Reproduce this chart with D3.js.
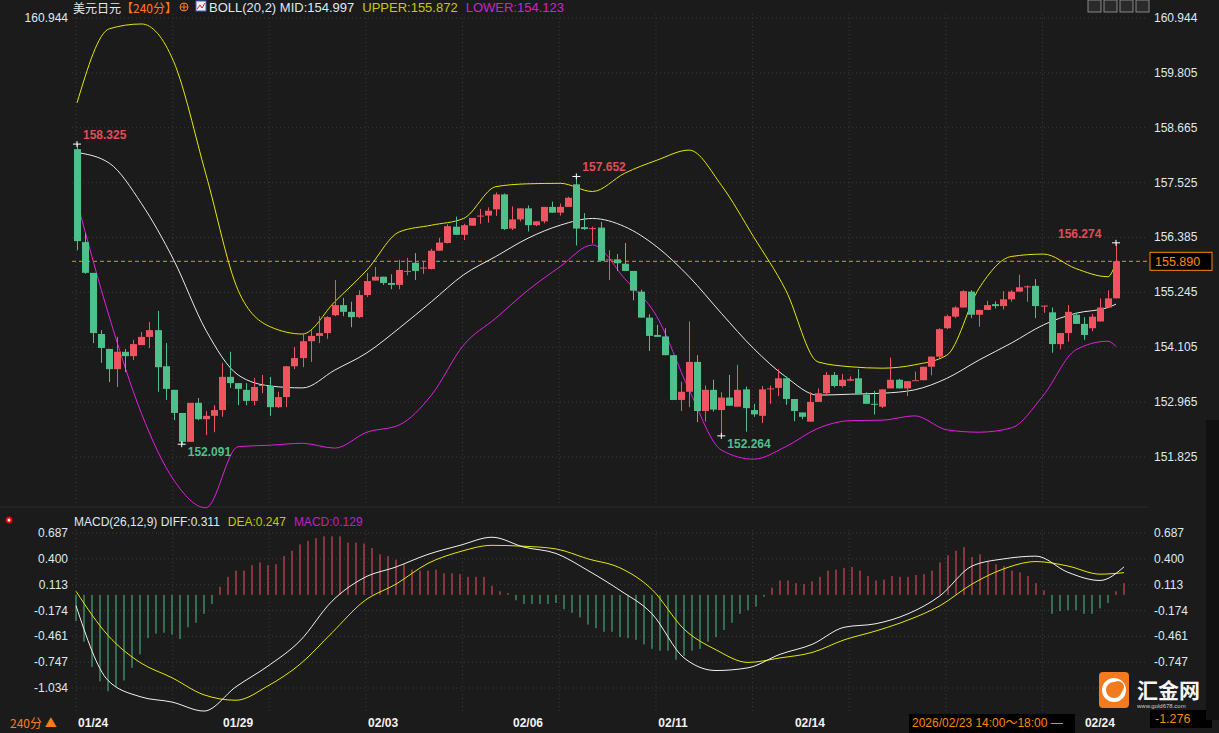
<!DOCTYPE html>
<html>
<head>
<meta charset="utf-8">
<script src="https://cdn.jsdelivr.net/npm/d3@7"></script>
<style>
  body { margin: 0; background: #1b1b1b; }
  svg { display: block; font-family: "Liberation Sans", Arial, "Noto Sans CJK SC", sans-serif; }
</style>
</head>
<body>
<svg id="chart" width="1219" height="733"></svg>
<script>
// candles, 240 min bars
const opens = [158.22,156.29,155.65,154.38,154.07,153.65,154.01,153.92,154.15,154.32,
  154.46,153.71,153.22,152.74,152.14,152.95,152.61,152.68,152.80,153.49,
  153.36,153.22,152.99,153.30,153.30,152.86,153.07,153.71,153.88,154.23,
  154.34,154.40,154.77,154.98,154.84,154.73,155.19,155.49,155.57,155.44,
  155.40,155.67,155.86,155.75,155.73,156.11,156.27,156.61,156.44,156.63,
  156.82,156.84,156.97,157.28,156.57,156.76,156.99,156.64,156.72,157.02,
  156.90,157.02,157.49,156.60,156.57,156.59,155.93,155.93,155.84,155.69,
  155.26,154.72,154.36,154.33,153.94,153.01,153.18,153.80,152.78,153.22,
  152.80,153.06,152.87,153.23,152.80,152.68,153.23,153.26,153.46,153.03,
  152.75,152.56,152.97,153.15,153.53,153.30,153.41,153.46,153.12,152.93,
  152.87,153.25,153.43,153.25,153.40,153.42,153.70,153.91,154.50,154.74,
  154.93,155.26,154.78,154.88,155.00,154.96,155.10,155.26,155.36,155.38,
  154.97,154.83,154.17,154.40,154.78,154.59,154.50,154.64,154.93,155.12]
const closes = [156.31,155.65,154.40,154.09,153.65,154.01,153.92,154.17,154.32,154.46,
  153.69,153.24,152.74,152.14,152.95,152.61,152.68,152.80,153.49,153.36,
  153.24,152.99,153.28,153.32,152.86,153.07,153.71,153.88,154.23,154.34,
  154.40,154.73,154.98,154.84,154.73,155.19,155.48,155.57,155.44,155.40,
  155.71,155.69,155.69,155.76,156.11,156.28,156.62,156.44,156.64,156.79,
  156.84,156.94,157.28,156.56,156.76,156.99,156.64,156.72,157.02,156.90,
  157.02,157.21,156.57,156.56,156.58,155.90,155.93,155.85,155.69,155.28,
  154.72,154.34,154.32,153.94,153.01,153.18,153.80,152.78,153.22,152.81,
  153.06,152.89,153.22,152.84,152.71,153.23,153.25,153.46,153.03,152.78,
  152.66,152.97,153.15,153.53,153.30,153.43,153.44,153.13,152.93,152.91,
  153.23,153.43,153.25,153.40,153.42,153.70,153.91,154.48,154.75,154.93,
  155.27,154.78,154.88,154.98,154.96,155.10,155.26,155.35,155.37,154.96,
  154.97,154.17,154.40,154.84,154.59,154.36,154.74,154.93,155.12,155.89]
const highs = [158.33,156.48,155.65,154.46,154.07,154.32,154.07,154.26,154.42,154.63,
  154.86,154.19,153.22,152.74,152.95,153.05,152.78,152.90,153.78,154.01,
  153.36,153.36,153.47,153.53,153.49,153.18,153.71,154.11,154.38,154.46,
  154.75,154.75,155.50,155.13,155.05,155.29,155.65,155.77,155.57,155.62,
  155.92,155.96,156.06,155.90,156.15,156.38,156.66,156.82,156.67,156.79,
  156.98,157.01,157.32,157.30,157.03,156.99,157.05,156.72,157.02,157.13,
  157.09,157.23,157.65,156.89,156.61,156.71,156.12,156.04,156.27,155.69,
  155.30,154.79,154.57,154.50,153.94,153.39,154.64,153.94,153.31,153.43,
  153.17,153.53,153.74,153.29,152.93,153.30,153.31,153.65,153.50,153.03,
  152.75,153.17,153.25,153.59,153.59,153.55,153.50,153.65,153.17,153.20,
  153.23,153.89,153.45,153.40,153.60,153.70,153.91,154.50,154.78,154.96,
  155.29,155.29,154.88,155.07,155.06,155.27,155.29,155.61,155.39,155.52,
  154.97,154.93,154.40,154.98,154.82,154.73,154.80,155.12,155.29,156.27]
const lows = [156.12,155.63,154.19,153.78,153.38,153.28,153.59,153.84,154.15,154.09,
  153.18,153.01,152.59,152.09,152.14,152.59,152.28,152.34,152.66,153.26,
  152.90,152.90,152.90,153.15,152.68,152.84,152.86,153.65,153.69,153.80,
  154.19,154.28,154.75,154.75,154.52,154.71,155.15,155.49,155.40,155.31,
  155.31,155.60,155.50,155.63,155.72,156.11,156.26,156.44,156.33,156.63,
  156.67,156.69,156.83,156.54,156.54,156.72,156.51,156.62,156.68,156.90,
  156.84,157.02,156.22,156.54,156.26,155.90,155.50,155.69,155.69,155.08,
  154.72,154.03,154.32,153.94,153.01,152.78,152.86,152.55,152.56,152.77,
  152.26,152.89,152.87,152.35,152.66,152.53,152.93,153.09,152.91,152.57,
  152.61,152.56,152.97,153.10,153.27,153.27,153.40,153.13,152.93,152.71,
  152.84,153.43,153.25,153.09,153.42,153.42,153.52,153.88,154.48,154.71,
  154.93,154.71,154.53,154.88,154.91,154.89,155.05,155.26,155.05,154.71,
  154.82,153.99,154.06,154.22,154.59,154.26,154.44,154.64,154.93,155.12]

// BOLL(20,2) read every 4 bars
const bandIdx = [0,4,8,12,16,20,24,28,32,36,40,44,48,52,56,60,64,68,72,76,80,84,88,92,96,100,104,108,112,116,120,124,128,129]
const upper = [159.18,160.72,160.82,160.04,157.70,155.29,154.53,154.38,155.05,155.71,156.50,156.64,156.78,157.44,157.50,157.51,157.34,157.72,157.99,158.20,157.47,156.40,155.29,153.80,153.70,153.67,153.74,153.94,155.33,155.99,156.04,155.74,155.57,155.87]
const mid = [158.15,157.93,157.09,155.92,154.46,153.53,153.30,153.26,153.63,153.99,154.50,155.05,155.61,155.99,156.37,156.64,156.78,156.61,156.19,155.57,154.81,154.08,153.49,153.11,153.13,153.15,153.22,153.46,153.84,154.19,154.57,154.81,154.93,155.00]
const lower = [157.13,154.74,152.73,151.35,150.77,152.04,152.07,152.11,152.01,152.34,152.49,153.11,154.15,154.71,155.29,155.78,156.23,155.53,154.74,153.22,151.97,151.78,152.04,152.42,152.58,152.59,152.68,152.39,152.34,152.43,153.11,154.05,154.23,154.12]

// MACD(26,12,9)
const hist = [-0.29,-0.52,-0.80,-0.96,-1.07,-1.02,-0.95,-0.81,-0.66,-0.48,
  -0.43,-0.42,-0.44,-0.49,-0.36,-0.31,-0.21,-0.10,0.09,0.20,
  0.27,0.27,0.33,0.36,0.33,0.34,0.43,0.49,0.56,0.60,
  0.63,0.65,0.65,0.65,0.58,0.58,0.57,0.52,0.45,0.43,
  0.39,0.34,0.28,0.27,0.27,0.28,0.24,0.24,0.23,0.20,
  0.20,0.20,0.10,0.04,0.02,-0.06,-0.10,-0.10,-0.10,-0.10,
  -0.09,-0.16,-0.20,-0.25,-0.33,-0.37,-0.41,-0.41,-0.47,-0.48,
  -0.50,-0.55,-0.60,-0.62,-0.62,-0.72,-0.68,-0.62,-0.60,-0.52,
  -0.47,-0.39,-0.31,-0.21,-0.17,-0.13,-0.02,0.08,0.16,0.16,
  0.13,0.12,0.15,0.20,0.27,0.28,0.30,0.31,0.27,0.21,
  0.16,0.17,0.21,0.20,0.20,0.22,0.23,0.27,0.36,0.44,
  0.49,0.53,0.42,0.45,0.37,0.34,0.32,0.27,0.25,0.21,
  0.13,0.05,-0.21,-0.18,-0.17,-0.17,-0.21,-0.21,-0.15,-0.09,
  0.04,0.13]
const lineIdx = [0,4,8,12,16,20,24,28,32,36,40,44,48,52,56,60,64,68,72,76,80,84,88,92,96,100,104,108,112,116,120,124,128,131]
const diff = [-0.12,-0.95,-1.13,-1.19,-1.29,-1.02,-0.79,-0.51,-0.07,0.19,0.31,0.45,0.55,0.64,0.53,0.46,0.27,0.05,-0.21,-0.70,-0.84,-0.81,-0.66,-0.55,-0.36,-0.32,-0.21,-0.01,0.32,0.40,0.43,0.25,0.16,0.311]
const dea = [0.04,-0.45,-0.75,-0.92,-1.11,-1.17,-1.01,-0.77,-0.42,-0.07,0.12,0.35,0.48,0.55,0.54,0.51,0.40,0.30,0.06,-0.38,-0.61,-0.75,-0.70,-0.64,-0.50,-0.40,-0.28,-0.12,0.12,0.29,0.37,0.32,0.23,0.247]

const priceTicks = [160.944,159.805,158.665,157.525,156.385,155.245,154.105,152.965,151.825]
const macdTicks = [0.687,0.400,0.113,-0.174,-0.461,-0.747,-1.034]
const dateLabels = ["01/24","01/29","02/03","02/06","02/11","02/14","02/24"]
const dateIdx = [2,20,38,56,74,91,127]
const lastPrice = 155.890

const RED = "#ef5461", GREEN = "#4fbf8b", AXIS = "#dfe8f2"
const svg = d3.select("#chart")
svg.append("rect").attr("width", 1219).attr("height", 733).attr("fill", "#1b1b1b")

const x = d3.scaleLinear().domain([0, opens.length - 1]).range([77, 1116])
const xm = d3.scaleLinear().domain([0, hist.length - 1]).range([76, 1124])
const y = d3.scaleLinear().domain([151.825, 160.944]).range([457, 18])
const ym = d3.scaleLinear().domain([-1.034, 0.687]).range([688, 533])

// grid
const grid = svg.append("g").attr("stroke", "#3a3a3a").attr("stroke-dasharray", "1,3")
priceTicks.forEach(t => grid.append("line").attr("x1", 72).attr("x2", 1148).attr("y1", y(t)).attr("y2", y(t)))
macdTicks.forEach(t => grid.append("line").attr("x1", 72).attr("x2", 1148).attr("y1", ym(t)).attr("y2", ym(t)))
d3.range(0, 130, 12).forEach(i => {
	grid.append("line").attr("x1", x(i) - 1).attr("x2", x(i) - 1).attr("y1", 14).attr("y2", 505)
	grid.append("line").attr("x1", x(i) - 1).attr("x2", x(i) - 1).attr("y1", 530).attr("y2", 712)
})
svg.append("line").attr("x1", 0).attr("x2", 1148).attr("y1", 507).attr("y2", 507).attr("stroke", "#2c2c2c")

// axis labels
const ax = svg.append("g").attr("fill", AXIS).attr("font-size", 12)
priceTicks.forEach(t => ax.append("text").attr("x", 1154).attr("y", y(t) + 4).text(t.toFixed(3)))
ax.append("text").attr("x", 68).attr("y", 22).attr("text-anchor", "end").text("160.944")
macdTicks.forEach(t => {
	ax.append("text").attr("x", 68).attr("y", ym(t) + 4).attr("text-anchor", "end").text(t.toFixed(3))
	if (t > -1) ax.append("text").attr("x", 1154).attr("y", ym(t) + 4).text(t.toFixed(3))
})

// last price line
svg.append("line").attr("x1", 72).attr("x2", 1148).attr("y1", y(lastPrice)).attr("y2", y(lastPrice))
	.attr("stroke", "#ff8a00").attr("stroke-dasharray", "4,3")
svg.append("rect").attr("x", 1150).attr("y", y(lastPrice) - 9).attr("width", 62).attr("height", 18)
	.attr("fill", "#000").attr("stroke", "#ff8a00")
svg.append("text").attr("x", 1155).attr("y", y(lastPrice) + 4.5).attr("fill", "#ff8a00").attr("font-size", 12.5).text(lastPrice.toFixed(3))

// bands
const bandLine = arr => d3.line().x((d, i) => x(bandIdx[i])).y(d => y(d)).curve(d3.curveMonotoneX)(arr)
svg.append("path").attr("d", bandLine(upper)).attr("fill", "none").attr("stroke", "#e6e600")
svg.append("path").attr("d", bandLine(mid)).attr("fill", "none").attr("stroke", "#e8e8e8")
svg.append("path").attr("d", bandLine(lower)).attr("fill", "none").attr("stroke", "#e020e0")

// candles
const cg = svg.append("g")
opens.forEach((o, i) => {
	const c = closes[i], col = c >= o ? RED : GREEN, cx = Math.round(x(i)) + 0.5
	cg.append("line").attr("x1", cx).attr("x2", cx).attr("y1", y(highs[i])).attr("y2", y(lows[i])).attr("stroke", col)
	const top = y(Math.max(o, c)), h = Math.max(1, y(Math.min(o, c)) - top)
	cg.append("rect").attr("x", cx - 3.5).attr("y", top).attr("width", 7).attr("height", h).attr("fill", col)
})

// extreme marks
const marks = [
	{ i: 0, v: 158.325, up: true, dx: 6 },
	{ i: 62, v: 157.652, up: true, dx: 6 },
	{ i: 129, v: 156.274, up: true, dx: -58 },
	{ i: 13, v: 152.091, up: false, dx: 6 },
	{ i: 80, v: 152.264, up: false, dx: 6 }
]
marks.forEach(m => {
	const px = x(m.i), py = y(m.v)
	svg.append("path").attr("d", `M${px - 4},${py}H${px + 4}M${px},${py - 3}V${py + 3}`).attr("stroke", "#fff")
	svg.append("text").attr("x", px + m.dx).attr("y", m.up ? py - 5 : py + 12)
		.attr("fill", m.up ? "#e34b56" : "#4fbf8b").attr("font-size", 12).attr("font-weight", "bold")
		.text(m.v.toFixed(3))
})

// MACD histogram
const z0 = ym(0)
hist.forEach((v, i) => {
	svg.append("line").attr("x1", xm(i)).attr("x2", xm(i)).attr("y1", z0).attr("y2", ym(v))
		.attr("stroke", v >= 0 ? RED : GREEN)
})
const mLine = arr => d3.line().x((d, i) => xm(lineIdx[i])).y(d => ym(d)).curve(d3.curveMonotoneX)(arr)
svg.append("path").attr("d", mLine(dea)).attr("fill", "none").attr("stroke", "#e6e600")
svg.append("path").attr("d", mLine(diff)).attr("fill", "none").attr("stroke", "#f0f0f0")

// headers
const h1 = svg.append("text").attr("x", 73).attr("y", 13).attr("font-size", 12)
h1.append("tspan").attr("fill", "#e8e8e8").attr("font-family", "Noto Sans CJK SC").text("美元日元")
h1.append("tspan").attr("fill", "#ff7a1a").attr("font-family", "Noto Sans CJK SC").text("【240分】")
svg.append("circle").attr("cx", 184).attr("cy", 7).attr("r", 4).attr("fill", "none").attr("stroke", "#ff7a1a")
svg.append("path").attr("d", "M180,7H188M184,3V11").attr("stroke", "#ff7a1a")
svg.append("rect").attr("x", 196).attr("y", 1).attr("width", 10).attr("height", 10).attr("fill", "#eef").attr("stroke", "#4466cc")
svg.append("path").attr("d", "M197,9L200,5L202,8L205,3").attr("stroke", "#d22").attr("fill", "none")
const h2 = svg.append("text").attr("x", 209).attr("y", 12).attr("font-size", 13)
h2.append("tspan").attr("fill", "#dfe8f2").text("BOLL(20,2) MID:154.997")
h2.append("tspan").attr("fill", "#c8c800").attr("dx", 8).text("UPPER:155.872")
h2.append("tspan").attr("fill", "#d020d0").attr("dx", 8).text("LOWER:154.123")

const h3 = svg.append("text").attr("x", 74).attr("y", 526).attr("font-size", 12)
h3.append("tspan").attr("fill", "#dfe8f2").text("MACD(26,12,9) DIFF:0.311")
h3.append("tspan").attr("fill", "#c8c800").attr("dx", 8).text("DEA:0.247")
h3.append("tspan").attr("fill", "#c020c0").attr("dx", 8).text("MACD:0.129")
svg.append("circle").attr("cx", 9).attr("cy", 520).attr("r", 2.5).attr("fill", "#fff").attr("stroke", "#e00").attr("stroke-width", 2)

// top-right tool icons
;[1088, 1104, 1120, 1136].forEach(px => svg.append("rect").attr("x", px).attr("y", 0).attr("width", 13).attr("height", 12)
	.attr("fill", "#2a2a2a").attr("stroke", "#888"))

// dates
dateLabels.forEach((d, i) => svg.append("text").attr("x", x(dateIdx[i])).attr("y", 727).attr("text-anchor", "middle")
	.attr("fill", "#f2f2f2").attr("font-size", 12).attr("font-weight", "bold").text(d))
svg.append("text").attr("x", 10).attr("y", 728).attr("fill", "#ff7a1a").attr("font-size", 12)
	.attr("font-family", "Noto Sans CJK SC").text("240分 ▲")
svg.append("rect").attr("x", 909).attr("y", 714).attr("width", 166).attr("height", 19).attr("fill", "#000")
svg.append("text").attr("x", 912).attr("y", 727).attr("fill", "#ff8a00").attr("font-size", 12).text("2026/02/23 14:00～18:00 —")
svg.append("rect").attr("x", 1150).attr("y", 710).attr("width", 62).attr("height", 18).attr("fill", "#000")
svg.append("text").attr("x", 1155).attr("y", 723).attr("fill", "#ff8a00").attr("font-size", 12.5).text("-1.276")

// right strip
svg.append("rect").attr("x", 1206).attr("y", 420).attr("width", 13).attr("height", 300).attr("fill", "#111")

// logo
svg.append("rect").attr("x", 1099).attr("y", 672).attr("width", 30).attr("height", 36).attr("rx", 4).attr("fill", "#f47a20")
svg.append("circle").attr("cx", 1114).attr("cy", 690).attr("r", 10).attr("fill", "none").attr("stroke", "#fff").attr("stroke-width", 4)
svg.append("circle").attr("cx", 1118).attr("cy", 687).attr("r", 6).attr("fill", "#f47a20")
svg.append("text").attr("x", 1137).attr("y", 698).attr("fill", "#f4f4f4").attr("font-size", 21).attr("font-weight", "bold")
	.attr("font-family", "Noto Sans CJK SC").text("汇金网")
svg.append("text").attr("x", 1137).attr("y", 708).attr("fill", "#ccc").attr("font-size", 6).text("www.gold678.com")
</script>
</body>
</html>
